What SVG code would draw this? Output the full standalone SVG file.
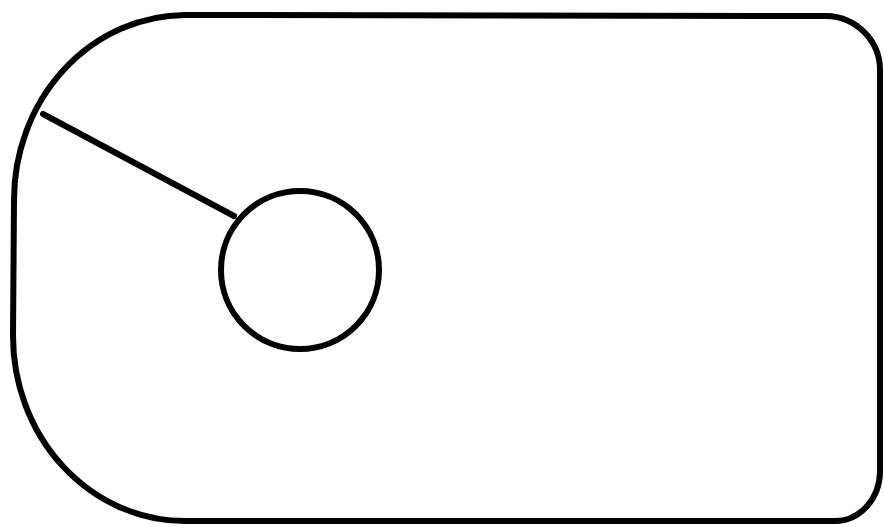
<svg xmlns="http://www.w3.org/2000/svg" width="884" height="527" viewBox="0 0 884 527">
<style>
.s{fill:none;stroke:#000;stroke-width:6;stroke-linecap:round;stroke-linejoin:round}
</style>
<rect width="884" height="527" fill="#fff"/>
<g id="outline">
<path class="s" d="M185,15 L826,16 A55,54 0 0 1 880,70 L880,472 A45,50 0 0 1 835,521 L185,521 A172,185 0 0 1 13,336 L14,200 A172,185 0 0 1 185,15 Z"/>
</g>
<g id="circle">
<circle class="s" cx="300" cy="270" r="79"/>
</g>
<g id="connectors">
<line class="s" x1="43" y1="114" x2="234" y2="216"/>
</g>
</svg>
